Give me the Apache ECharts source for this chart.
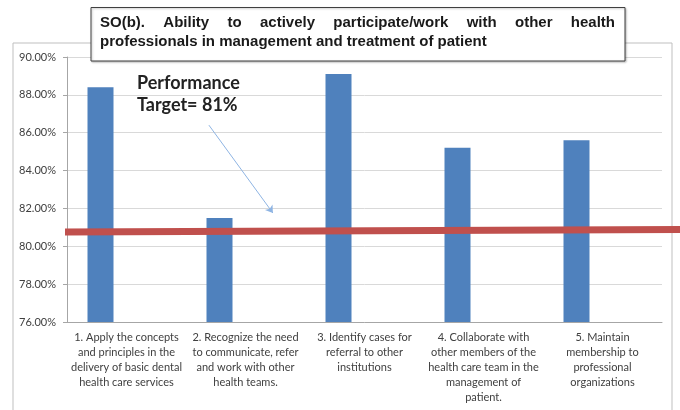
<!DOCTYPE html>
<html>
<head>
<meta charset="utf-8">
<script src="https://cdn.jsdelivr.net/npm/echarts@6/dist/echarts.min.js"></script>
<style>html,body{margin:0;padding:0;background:#fff}#c{width:680px;height:410px}</style>
</head>
<body>
<div id="c"></div>
<script>
// ---- data ----
const categories = [
  '1. Apply the concepts\nand principles in the\ndelivery of basic dental\nhealth care services',
  '2. Recognize the need\nto communicate, refer\nand work with other\nhealth teams.',
  '3. Identify cases for\nreferral to other\ninstitutions',
  '4. Collaborate with\nother members of the\nhealth care team in the\nmanagement of\npatient.',
  '5. Maintain\nmembership to\nprofessional\norganizations'
];
const performance = [88.4, 81.5, 89.1, 85.2, 85.6];
const targetLine = [80.76, 80.89];          // red target band (left end, right end)
const yMin = 76, yMax = 90, yStep = 2;
const titleLine1 = 'SO(b). Ability to actively participate/work with other health';
const titleLine2 = 'professionals in management and treatment of patient';
const annotationText = 'Performance\nTarget= 81%';
const arrowFrom = [0.234, 86.4];
const arrowTo = [0.338, 81.76];

// ---- build ----
const chart = echarts.init(document.getElementById('c'));
const titleFont = 'bold 15px "Liberation Sans"';
const ctx = document.createElement('canvas').getContext('2d');
ctx.font = titleFont;
const words = titleLine1.split(' ');
const textLeft = 100, textRight = 615;
const widths = words.map(w => ctx.measureText(w).width);
const total = widths.reduce((a, b) => a + b, 0);
const gap = (textRight - textLeft - total) / (words.length - 1);
const titleGraphics = [];
let cx = textLeft;
words.forEach((w, i) => {
  titleGraphics.push({type: 'text', x: cx, y: 15, z: 102,
    style: {text: w, font: titleFont, fill: '#1a1a1a'}});
  cx += widths[i] + gap;
});
titleGraphics.push({type: 'text', x: textLeft, y: 34, z: 102,
  style: {text: titleLine2, font: titleFont, fill: '#1a1a1a'}});

const option = {
  animation: false,
  grid: [
    {left: 67, right: 18, top: 57, bottom: 88},
    {left: 65, right: 0, top: 57, bottom: 88}
  ],
  xAxis: [
    {type: 'category', data: categories, gridIndex: 0,
     axisLine: {lineStyle: {color: '#a6a6a6'}},
     axisTick: {length: 4, lineStyle: {color: '#a6a6a6'}},
     axisLabel: {interval: 0, color: '#404040', fontFamily: 'Lato', fontSize: 11, lineHeight: 15, margin: 8}},
    {type: 'value', gridIndex: 1, min: 0, max: 1, show: false}
  ],
  yAxis: [
    {type: 'value', gridIndex: 0, min: yMin, max: yMax, interval: yStep,
     axisLine: {show: true, lineStyle: {color: '#a6a6a6'}},
     axisTick: {show: true, length: 4, lineStyle: {color: '#a6a6a6'}},
     splitLine: {lineStyle: {color: '#d9d9d9'}},
     axisLabel: {color: '#404040', fontFamily: 'Lato', fontSize: 11, margin: 11,
       formatter: v => v.toFixed(2) + '%'}},
    {type: 'value', gridIndex: 1, min: yMin, max: yMax, show: false}
  ],
  series: [
    {type: 'bar', data: performance, xAxisIndex: 0, yAxisIndex: 0, barWidth: 26, barGap: '100%',
     itemStyle: {color: '#4f81bd'}},
    {type: 'bar', data: performance.map(() => null), xAxisIndex: 0, yAxisIndex: 0, barWidth: 26},
    {type: 'line', xAxisIndex: 1, yAxisIndex: 1, z: 5, symbol: 'none',
     data: [[0, targetLine[0]], [1, targetLine[1]]],
     lineStyle: {color: '#c0504d', width: 7},
     markLine: {silent: true, symbol: ['none', 'arrow'], symbolSize: 7, label: {show: false},
       lineStyle: {color: '#8eb4e3', width: 1, type: 'solid'},
       data: [[{coord: arrowFrom}, {coord: arrowTo}]]}}
  ],
  graphic: [
    {type: 'rect', z: -10, shape: {x: 13, y: 43, width: 659, height: 380},
     style: {fill: 'none', stroke: '#bfbfbf', lineWidth: 1}},
    {type: 'rect', z: 100, shape: {x: 91, y: 7.5, width: 534, height: 53.5},
     style: {fill: '#fff', stroke: '#404040', lineWidth: 1,
       shadowColor: 'rgba(0,0,0,0.25)', shadowBlur: 2, shadowOffsetX: 1, shadowOffsetY: 1}},
    {type: 'text', x: 137, y: 72, z: 50,
     style: {text: annotationText, font: 'bold 18px Lato', lineHeight: 22, fill: '#222'}}
  ].concat(titleGraphics)
};
chart.setOption(option);
</script>
</body>
</html>
